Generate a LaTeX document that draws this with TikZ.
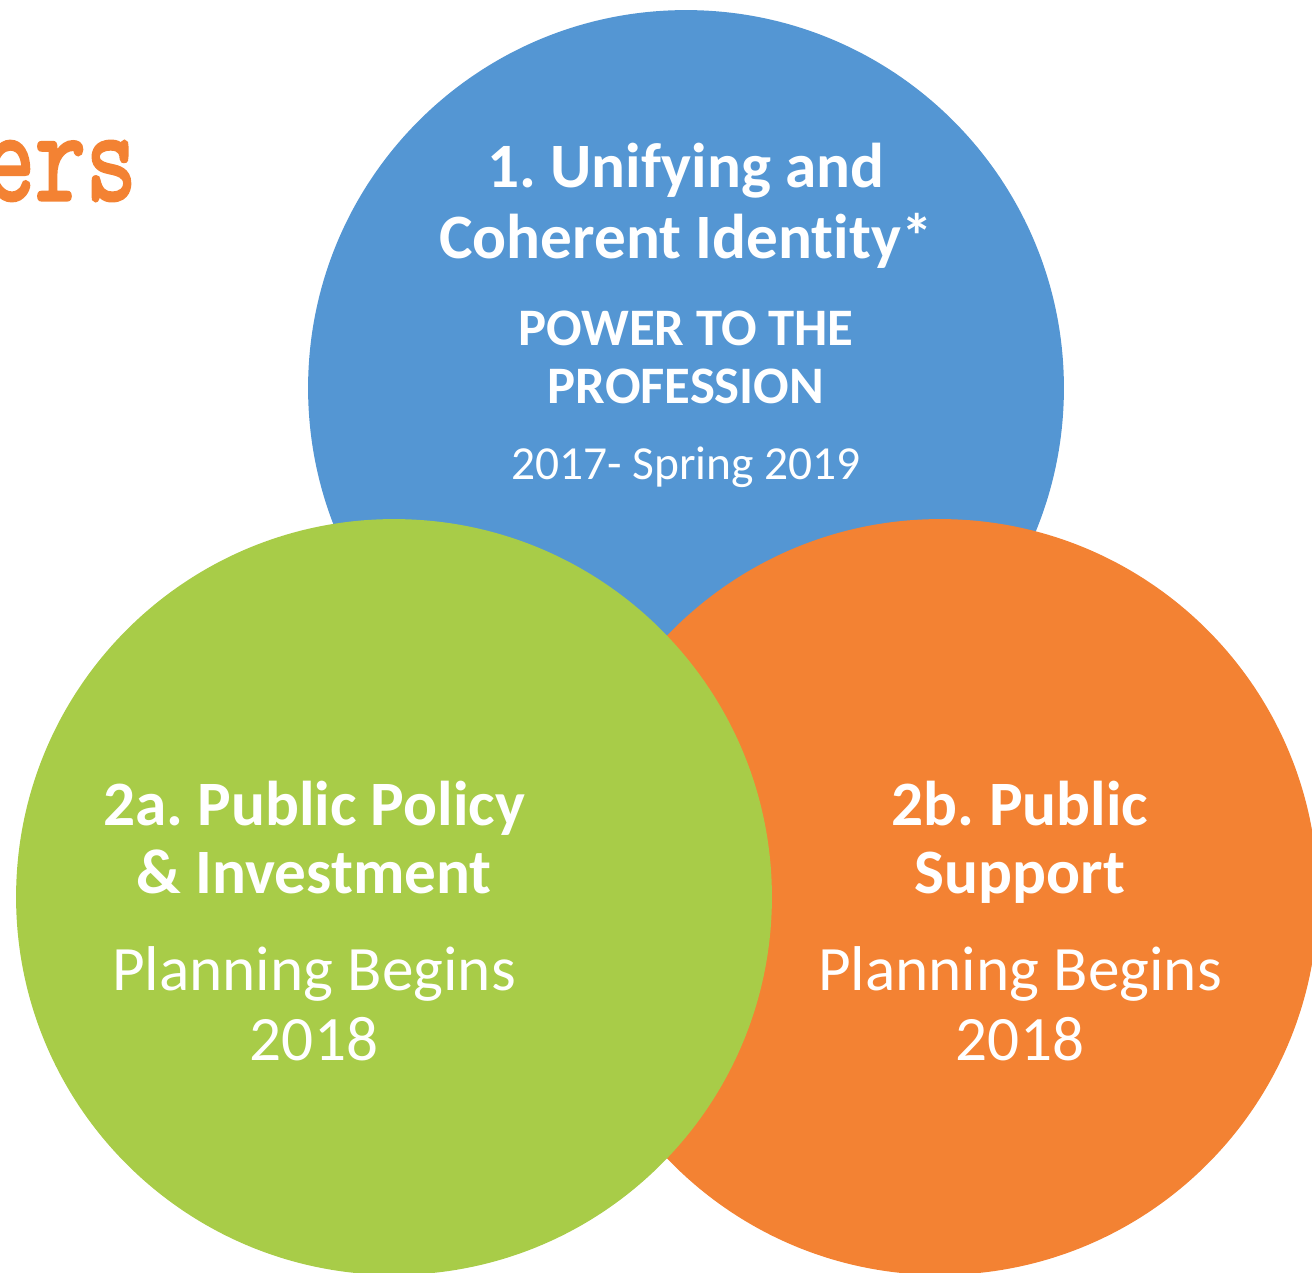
\documentclass[tikz,border=0pt]{standalone}
\usepackage{fontspec}
\setmainfont[Ligatures={NoCommon}]{Carlito}
\newfontfamily\slabfont[FakeBold=2.5]{Latin Modern Mono}
\frenchspacing
\definecolor{circblue}{RGB}{84,150,211}
\definecolor{circgreen}{RGB}{168,204,72}
\definecolor{circorange}{RGB}{243,130,51}
\tikzstyle{disc}=[circle,inner sep=0pt,minimum size=15.12cm]
\tikzstyle{title}=[text=white,inner sep=0pt,anchor=base,
font=\bfseries\fontsize{36}{40}\selectfont]
\tikzstyle{caps}=[text=white,inner sep=0pt,anchor=base,
font=\bfseries\fontsize{30}{33}\selectfont]
\tikzstyle{dates}=[text=white,inner sep=0pt,anchor=base,
font=\fontsize{27}{31}\selectfont]
\tikzstyle{plan}=[text=white,inner sep=0pt,anchor=base,
font=\fontsize{36}{40}\selectfont]

\begin{document}
\begin{tikzpicture}[x=0.02cm,y=-0.02cm]
	\useasboundingbox (0,0) rectangle (1312,1272);
	
	\node  (ers)   at (137,200) [anchor=base east,inner sep=0pt,text=circorange,
	font=\slabfont\fontsize{76}{76}\selectfont] {\scalebox{0.74}[1]{ers}};
	
	\node  (c1)   at (686,388) [disc,fill=circblue] {};
	\node  (c2b)  at (940,897) [disc,fill=circorange] {};
	\node  (c2a)  at (394,897) [disc,fill=circgreen] {};
	
	\node  (t1a)  at (686,187) [title] {1. Unifying and};
	\node  (t1b)  at (686,258) [title] {Coherent Identity*};
	\node  (p1a)  at (686,345) [caps] {POWER TO THE};
	\node  (p1b)  at (686,403) [caps] {PROFESSION};
	\node  (d1)   at (686,479) [dates] {2017- Spring 2019};
	
	\node  (t2a)  at (314,825) [title] {2a. Public Policy};
	\node  (t2b)  at (314,893) [title] {\& Investment};
	\node  (p2a)  at (314,990) [plan] {Planning Begins};
	\node  (d2a)  at (314,1060) [plan] {2018};
	
	\node  (t3a)  at (1020,825) [title] {2b. Public};
	\node  (t3b)  at (1020,893) [title] {Support};
	\node  (p3a)  at (1020,990) [plan] {Planning Begins};
	\node  (d3a)  at (1020,1060) [plan] {2018};
	
\end{tikzpicture}
\end{document}
